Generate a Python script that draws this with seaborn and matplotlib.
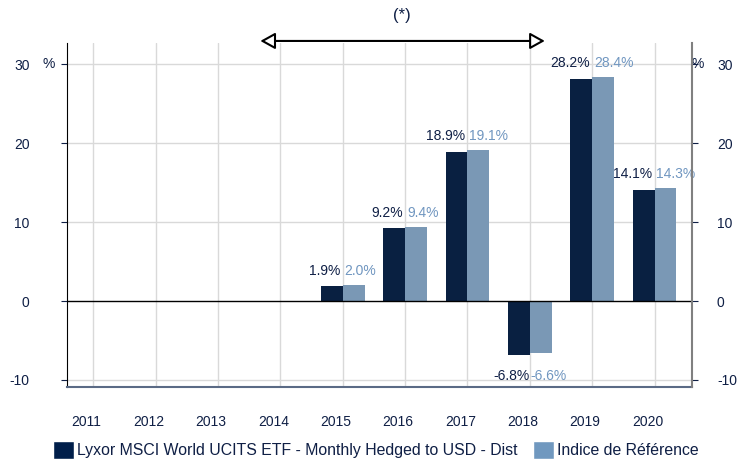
import numpy as np
import pandas as pd
import matplotlib
matplotlib.use('Agg')
import matplotlib.pyplot as plt
import matplotlib.transforms as mtransforms
from matplotlib.patches import Patch
import seaborn as sns

sns.set_style("white")
plt.rcParams['font.family'] = ['Liberation Sans', 'DejaVu Sans']

# données
annees = ['2011', '2012', '2013', '2014', '2015', '2016', '2017', '2018', '2019', '2020']
fonds = [np.nan, np.nan, np.nan, np.nan, 1.9, 9.2, 18.9, -6.8, 28.2, 14.1]
indice = [np.nan, np.nan, np.nan, np.nan, 2.0, 9.4, 19.1, -6.6, 28.4, 14.3]
nom_fonds = 'Lyxor MSCI World UCITS ETF - Monthly Hedged to USD - Dist'
nom_indice = 'Indice de Référence'
yticks = [-10, 0, 10, 20, 30]

c_fonds = '#001e4a'
c_indice = '#7098bf'
c_txt = '#0f1f45'
c_txt2 = '#7096c0'

df = pd.DataFrame({'annee': annees * 2,
                   'val': fonds + indice,
                   'serie': [nom_fonds] * len(annees) + [nom_indice] * len(annees)})

fig = plt.figure(figsize=(7.37, 4.61), dpi=100)
ax = fig.add_axes([0.0909, 0.1605, 0.848, 0.7462])

sns.barplot(data=df, x='annee', y='val', hue='serie', order=annees,
            hue_order=[nom_fonds, nom_indice], palette=[c_fonds, c_indice],
            width=0.7, linewidth=0, errorbar=None, legend=False, ax=ax, zorder=3)

ax.set_xlim(-0.42, 9.6)
ax.set_ylim(-10.9, 32.7)
ax.set_xlabel('')
ax.set_ylabel('')

# grille
for i in range(len(annees)):
    ax.axvline(i, color='#d9d9d9', lw=1, zorder=0)
for y in [-10, 10, 20, 30]:
    ax.axhline(y, color='#d9d9d9', lw=1, zorder=0)
ax.axhline(0, color='black', lw=1, zorder=4)

ax.set_yticks(yticks)
ax.set_yticklabels([str(t) for t in yticks])
ax.tick_params(axis='y', left=True, length=4, color=c_txt, labelcolor=c_txt,
               labelsize=10, pad=23)
ax.tick_params(axis='x', bottom=False, labelcolor=c_txt, labelsize=10, pad=17)
offset = mtransforms.ScaledTranslation(-7 / 100, 0, fig.dpi_scale_trans)
for lab in ax.get_xticklabels():
    lab.set_transform(lab.get_transform() + offset)

ax.spines['top'].set_visible(False)
ax.spines['left'].set_color('black')
ax.spines['right'].set_visible(False)
ax.spines['bottom'].set_color('#5a6a85')
ax.spines['bottom'].set_linewidth(1.5)

ax2 = ax.twinx()
ax2.set_ylim(ax.get_ylim())
ax2.set_yticks(yticks)
ax2.set_yticklabels([str(t) for t in yticks])
ax2.tick_params(axis='y', right=True, length=4, color=c_txt, labelcolor=c_txt,
                labelsize=10, pad=14)
for s in ['top', 'left', 'bottom']:
    ax2.spines[s].set_visible(False)
ax2.spines['right'].set_color('#808080')
ax2.spines['right'].set_linewidth(1.5)

# % à côté de 30
ax.text(-0.03, 30, '%', transform=ax.get_yaxis_transform(), ha='center', va='center',
        color=c_txt, fontsize=10)
ax.text(1.009, 30, '%', transform=ax.get_yaxis_transform(), ha='center', va='center',
        color=c_txt, fontsize=10)

# étiquettes des valeurs
for i, (a, b) in enumerate(zip(fonds, indice)):
    if np.isnan(a):
        continue
    top = max(a, b)
    if top >= 0:
        ax.annotate(f'{a:.1f}%', (i - 0.04, top), xytext=(0, 5), textcoords='offset points',
                    ha='right', va='bottom', color=c_txt, fontsize=10)
        ax.annotate(f'{b:.1f}%', (i + 0.03, top), xytext=(0, 5), textcoords='offset points',
                    ha='left', va='bottom', color=c_txt2, fontsize=10)
    else:
        low = min(a, b)
        ax.annotate(f'{a:.1f}%', (i - 0.01, low), xytext=(0, -10), textcoords='offset points',
                    ha='right', va='top', color=c_txt, fontsize=10)
        ax.annotate(f'{b:.1f}%', (i + 0.01, low), xytext=(0, -10), textcoords='offset points',
                    ha='left', va='top', color=c_txt2, fontsize=10)

# flèche (*)
ax.annotate('', xy=(2.68, 1.006), xytext=(7.24, 1.006), xycoords=ax.get_xaxis_transform(),
            textcoords=ax.get_xaxis_transform(), annotation_clip=False,
            arrowprops=dict(arrowstyle='<|-|>,head_length=0.9,head_width=0.5',
                            facecolor='white', edgecolor='black', lw=1.5,
                            shrinkA=0, shrinkB=0))
ax.text(4.95, 1.081, '(*)', transform=ax.get_xaxis_transform(), ha='center', va='center',
        fontsize=12, color=c_txt)

handles = [Patch(facecolor=c_fonds), Patch(facecolor=c_indice)]
fig.legend(handles, [nom_fonds, nom_indice], loc='lower center', ncol=2,
           bbox_to_anchor=(0.51, -0.026), frameon=False, fontsize=11.4,
           handlelength=1.3, handleheight=1.3, handletextpad=0.2, columnspacing=1.0,
           labelcolor=c_txt)

fig.savefig('out.png', dpi=100)
